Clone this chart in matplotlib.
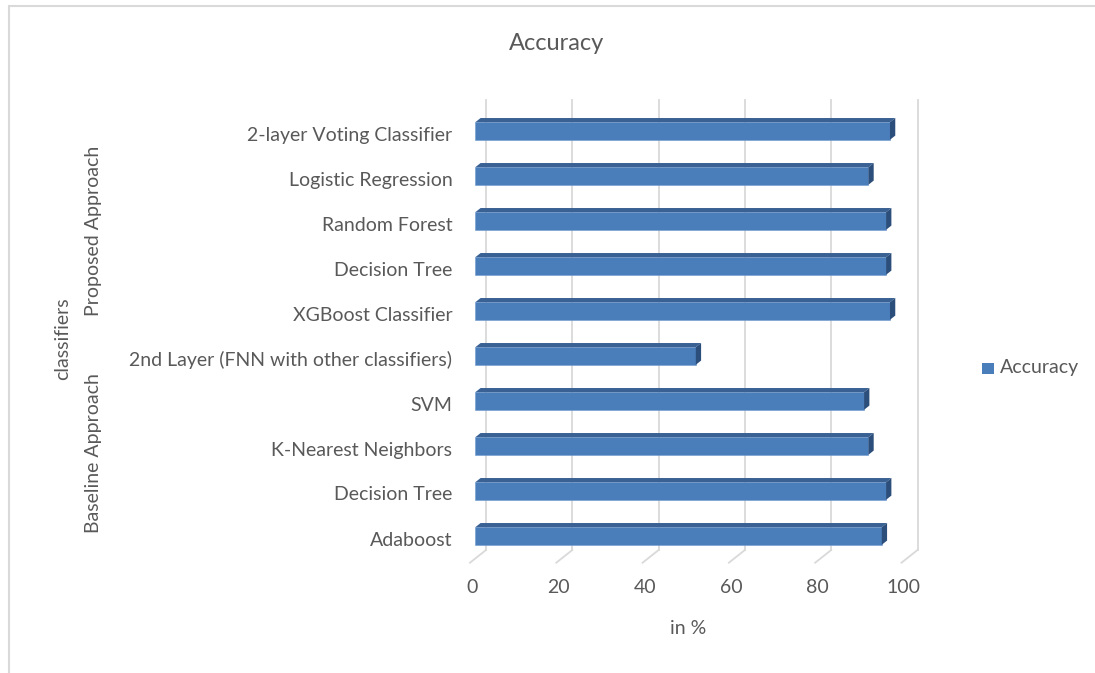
import matplotlib
matplotlib.use("Agg")
import matplotlib.pyplot as plt
from matplotlib.patches import Polygon, Rectangle

plt.rcParams['font.family'] = ['Lato', 'DejaVu Sans']

# classifiers, bottom to top
labels = ["Adaboost", "Decision Tree", "K-Nearest Neighbors", "SVM",
          "2nd Layer (FNN with other classifiers)",
          "XGBoost Classifier", "Decision Tree", "Random Forest",
          "Logistic Regression", "2-layer Voting Classifier"]
accuracy = [94.2, 95.2, 91.1, 90.1, 51.1, 96.1, 95.2, 95.2, 91.1, 96.1]
ticks = [0, 20, 40, 60, 80, 100]

text_col = '#595959'
grid_col = '#d9d9d9'
front_col = '#4a7ebb'
top_col = '#3a6194'
side_col = '#2c4e7a'

W, H = 1095, 673
fig = plt.figure(figsize=(W / 100, H / 100), dpi=100)
ax = fig.add_axes([475.3 / W, 1 - 558.5 / H, 431.5 / W, 450 / H])
ax.set_xlim(0, 100)
ax.set_ylim(-0.5, 9.5)
ax.axis('off')


def px(dx, dy):
    # pixel offset -> data offset
    sx = ax.transData.transform((1, 0))[0] - ax.transData.transform((0, 0))[0]
    sy = ax.transData.transform((0, 1))[1] - ax.transData.transform((0, 0))[1]
    return dx / sx, dy / sy


bx, by = px(10.7, 8.5)     # back wall
fx, fy = px(-5.3, -4.2)    # front edge of floor
dx, dy = px(5.3, 4.2)      # bar depth

# back wall gridlines and floor lines
for t in ticks:
    ax.plot([t + bx, t + bx], [-0.5 + by, 9.5 + by], color=grid_col, lw=1.3,
            clip_on=False, zorder=1)
    ax.plot([t + fx, t + bx], [-0.5 + fy, -0.5 + by], color=grid_col, lw=1.3,
            clip_on=False, zorder=1)
    ax.annotate(str(t), (t + fx, -0.5 + fy), xytext=(2, -25),
                textcoords='offset pixels', ha='center', va='center',
                fontsize=14, color=text_col, annotation_clip=False)

h = 0.39
pos = list(range(len(labels)))
ax.barh(pos, accuracy, height=h, color=front_col, edgecolor='#6f9ad0',
        linewidth=0.4, zorder=3)
for y, v in zip(pos, accuracy):
    top = y + h / 2
    bot = y - h / 2
    ax.add_patch(Polygon([(0, top), (v, top), (v + dx, top + dy), (dx, top + dy)],
                         closed=True, facecolor=top_col, edgecolor='none',
                         zorder=3, clip_on=False))
    ax.add_patch(Polygon([(v, bot), (v, top), (v + dx, top + dy), (v + dx, bot + dy)],
                         closed=True, facecolor=side_col, edgecolor='none',
                         zorder=3, clip_on=False))

for y, lab in zip(pos, labels):
    ax.annotate(lab, (0, y), xytext=(-23, -4), textcoords='offset pixels',
                ha='right', va='center', fontsize=14, color=text_col,
                annotation_clip=False)

fig.text(557 / W, 1 - 43 / H, "Accuracy", ha='center', va='center',
         fontsize=17, color=text_col)
fig.text(688 / W, 1 - 628 / H, "in %", ha='center', va='center',
         fontsize=14, color=text_col)
fig.text(63 / W, 1 - 339 / H, "classifiers", rotation=90, ha='center',
         va='center', fontsize=14, color=text_col)
fig.text(93 / W, 1 - 231 / H, "Proposed Approach", rotation=90, ha='center',
         va='center', fontsize=14, color=text_col)
fig.text(93 / W, 1 - 453 / H, "Baseline Approach", rotation=90, ha='center',
         va='center', fontsize=14, color=text_col)

# legend
fig.add_artist(Rectangle((982 / W, 1 - 374 / H), 11.5 / W, 11.5 / H,
                         transform=fig.transFigure, facecolor=front_col,
                         edgecolor='none'))
fig.text(1000 / W, 1 - 368 / H, "Accuracy", ha='left', va='center',
         fontsize=14, color=text_col)

# chart area border
fig.add_artist(Rectangle((9 / W, -0.05), 1.2, 1 - 6 / H + 0.05,
                         transform=fig.transFigure, facecolor='none',
                         edgecolor=grid_col, linewidth=1.5))

fig.savefig('out.png', dpi=100)
